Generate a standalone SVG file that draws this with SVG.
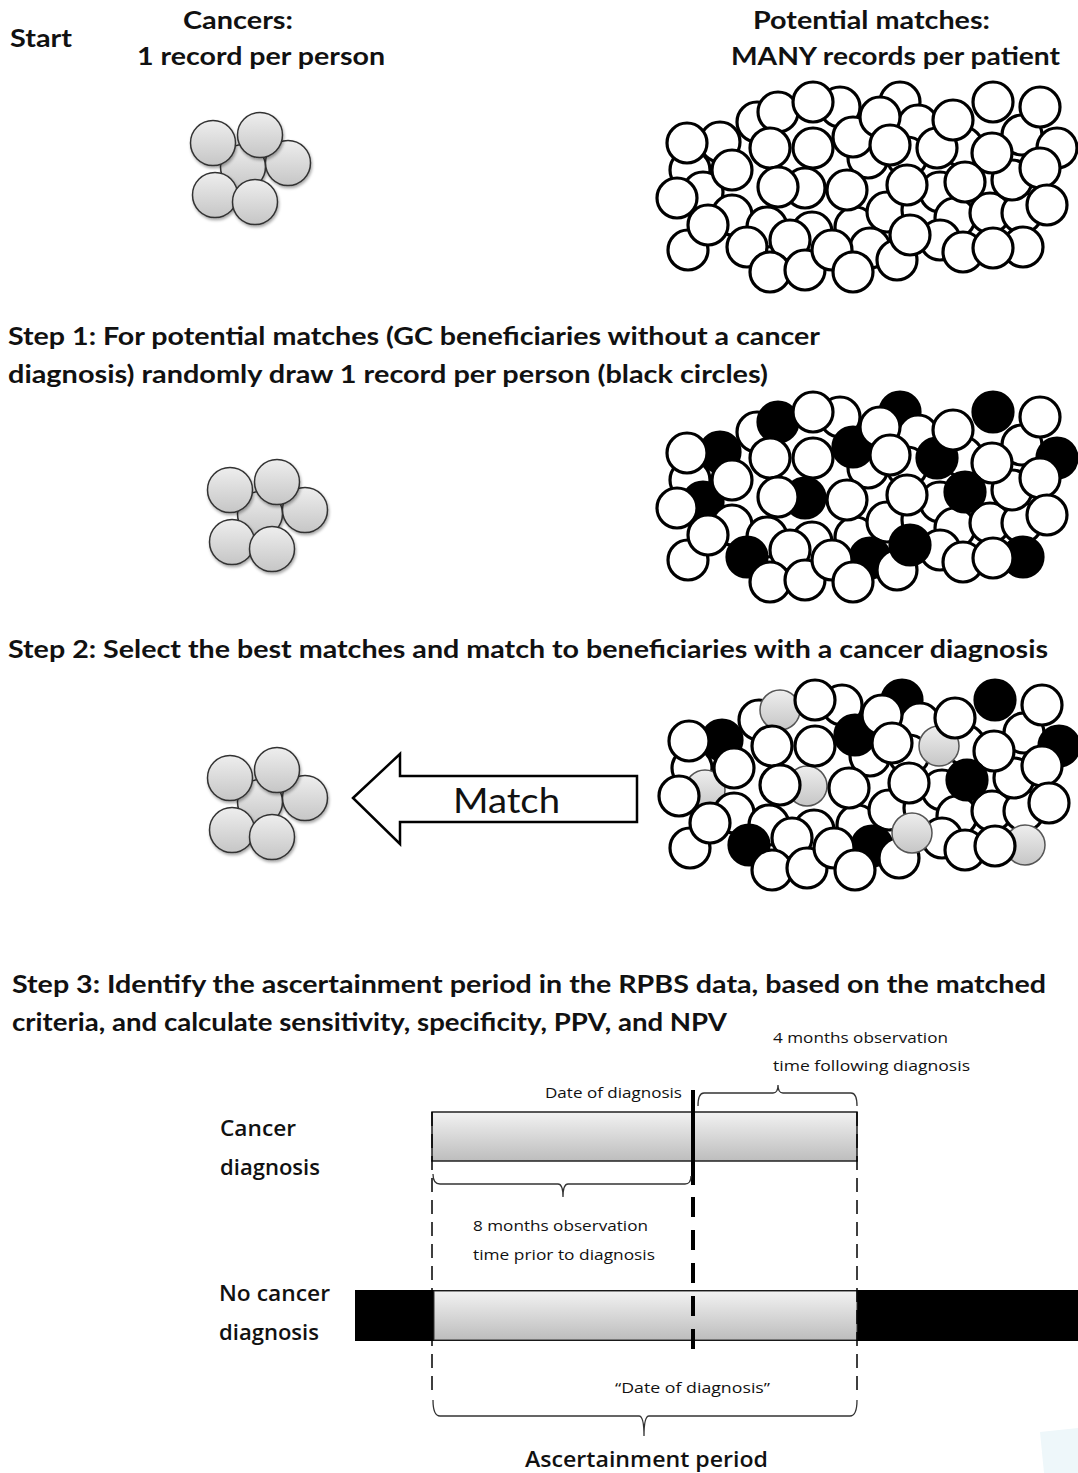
<svg xmlns="http://www.w3.org/2000/svg" xmlns:xlink="http://www.w3.org/1999/xlink" width="1078" height="1473" viewBox="0 0 1078 1473">
<style>
.h{font-family:Lato,"Open Sans","Liberation Sans",sans-serif;font-weight:bold;font-size:25px;fill:#111}
.t{font-family:"Open Sans",Lato,"Liberation Sans",sans-serif;font-size:15px;fill:#111}
.l{font-family:"Open Sans",Lato,"Liberation Sans",sans-serif;font-weight:600;font-size:21px;fill:#111}
.m{font-family:Lato,"Open Sans","Liberation Sans",sans-serif;font-size:35px;fill:#111}
.w{fill:#fff;stroke:#000;stroke-width:3.2}
.k{fill:#000;stroke:#000;stroke-width:3.2}
.g{fill:url(#gg);stroke:#555;stroke-width:1.5}
.s{fill:url(#gg);stroke:#333;stroke-width:1.5;filter:url(#sh)}
.br{fill:none;stroke:#333;stroke-width:1.3}
.dt{stroke:#000;stroke-width:1.5;stroke-dasharray:14 8;fill:none}
</style>
<defs>
<linearGradient id="gg" x1="0" y1="0" x2="0" y2="1">
<stop offset="0" stop-color="#eeeeee"/><stop offset="1" stop-color="#c6c6c6"/>
</linearGradient>
<linearGradient id="bar" x1="0" y1="0" x2="0" y2="1">
<stop offset="0" stop-color="#f2f2f2"/><stop offset="1" stop-color="#bdbdbd"/>
</linearGradient>
<filter id="sh" x="-30%" y="-30%" width="160%" height="160%">
<feDropShadow dx="1" dy="2" stdDeviation="1.5" flood-color="#000" flood-opacity="0.35"/>
</filter>
<g id="small">
<circle cx="243" cy="167" r="22.5" class="s"/>
<circle cx="213" cy="143" r="22.5" class="s"/>
<circle cx="288" cy="163" r="22.5" class="s"/>
<circle cx="260" cy="135" r="22.5" class="s"/>
<circle cx="215" cy="195" r="22.5" class="s"/>
<circle cx="255" cy="202" r="22.5" class="s"/>
</g>
</defs>
<rect width="1078" height="1473" fill="#fff"/>

<g id="header-start"><text class="h" x="10" y="47" textLength="62" lengthAdjust="spacingAndGlyphs">Start</text></g>
<g id="header-cancers">
<text class="h" x="183" y="29" textLength="110" lengthAdjust="spacingAndGlyphs">Cancers:</text>
<text class="h" x="137" y="65" textLength="248" lengthAdjust="spacingAndGlyphs">1 record per person</text>
</g>
<g id="header-matches">
<text class="h" x="753" y="29" textLength="237" lengthAdjust="spacingAndGlyphs">Potential matches:</text>
<text class="h" x="731" y="65" textLength="329" lengthAdjust="spacingAndGlyphs">MANY records per patient</text>
</g>

<g id="cancers-start"><use xlink:href="#small"/></g>
<g id="cancers-step1"><use xlink:href="#small" transform="translate(17,347)"/></g>
<g id="cancers-step2"><use xlink:href="#small" transform="translate(17,635)"/></g>

<g id="matches-start">
<circle cx="690" cy="170" r="20" class="w"/><circle cx="720" cy="142" r="20" class="w"/><circle cx="757" cy="122" r="20" class="w"/><circle cx="840" cy="107" r="20" class="w"/><circle cx="900" cy="102" r="20" class="w"/><circle cx="918" cy="125" r="20" class="w"/><circle cx="1022" cy="135" r="20" class="w"/><circle cx="1057" cy="148" r="20" class="w"/><circle cx="703" cy="192" r="20" class="w"/><circle cx="732" cy="215" r="20" class="w"/><circle cx="767" cy="227" r="20" class="w"/><circle cx="812" cy="232" r="20" class="w"/><circle cx="855" cy="227" r="20" class="w"/><circle cx="868" cy="158" r="20" class="w"/><circle cx="907" cy="157" r="20" class="w"/><circle cx="887" cy="212" r="20" class="w"/><circle cx="922" cy="210" r="20" class="w"/><circle cx="940" cy="192" r="20" class="w"/><circle cx="955" cy="218" r="20" class="w"/><circle cx="940" cy="240" r="20" class="w"/><circle cx="990" cy="213" r="20" class="w"/><circle cx="1022" cy="213" r="20" class="w"/><circle cx="963" cy="147" r="20" class="w"/><circle cx="1012" cy="180" r="20" class="w"/><circle cx="870" cy="248" r="20" class="w"/><circle cx="907" cy="185" r="20" class="w"/>
<circle cx="805" cy="188" r="20" class="w"/><circle cx="778" cy="112" r="20" class="w"/><circle cx="813" cy="102" r="20" class="w"/><circle cx="770" cy="148" r="20" class="w"/><circle cx="778" cy="187" r="20" class="w"/><circle cx="813" cy="148" r="20" class="w"/><circle cx="847" cy="190" r="20" class="w"/><circle cx="853" cy="137" r="20" class="w"/><circle cx="880" cy="117" r="20" class="w"/><circle cx="890" cy="145" r="20" class="w"/><circle cx="937" cy="148" r="20" class="w"/><circle cx="953" cy="120" r="20" class="w"/><circle cx="993" cy="102" r="20" class="w"/><circle cx="1040" cy="107" r="20" class="w"/><circle cx="992" cy="153" r="20" class="w"/><circle cx="965" cy="182" r="20" class="w"/><circle cx="1040" cy="168" r="20" class="w"/><circle cx="1047" cy="205" r="20" class="w"/><circle cx="687" cy="143" r="20" class="w"/><circle cx="732" cy="170" r="20" class="w"/><circle cx="677" cy="198" r="20" class="w"/><circle cx="688" cy="250" r="20" class="w"/><circle cx="708" cy="225" r="20" class="w"/><circle cx="747" cy="247" r="20" class="w"/><circle cx="790" cy="240" r="20" class="w"/><circle cx="770" cy="272" r="20" class="w"/><circle cx="805" cy="270" r="20" class="w"/><circle cx="832" cy="250" r="20" class="w"/><circle cx="853" cy="272" r="20" class="w"/><circle cx="897" cy="260" r="20" class="w"/><circle cx="910" cy="235" r="20" class="w"/><circle cx="1023" cy="247" r="20" class="w"/><circle cx="963" cy="252" r="20" class="w"/><circle cx="993" cy="248" r="20" class="w"/>
</g>

<g id="step1-heading">
<text class="h" x="8" y="345" textLength="812" lengthAdjust="spacingAndGlyphs">Step 1: For potential matches (GC beneficiaries without a cancer</text>
<text class="h" x="8" y="383" textLength="760" lengthAdjust="spacingAndGlyphs">diagnosis) randomly draw 1 record per person (black circles)</text>
</g>

<g id="matches-step1" transform="translate(0,310)">
<circle cx="690" cy="170" r="20" class="w"/><circle cx="720" cy="142" r="20" class="k"/><circle cx="757" cy="122" r="20" class="w"/><circle cx="840" cy="107" r="20" class="w"/><circle cx="900" cy="102" r="20" class="k"/><circle cx="918" cy="125" r="20" class="w"/><circle cx="1022" cy="135" r="20" class="w"/><circle cx="1057" cy="148" r="20" class="k"/><circle cx="703" cy="192" r="20" class="k"/><circle cx="732" cy="215" r="20" class="w"/><circle cx="767" cy="227" r="20" class="w"/><circle cx="812" cy="232" r="20" class="w"/><circle cx="855" cy="227" r="20" class="w"/><circle cx="868" cy="158" r="20" class="w"/><circle cx="907" cy="157" r="20" class="w"/><circle cx="887" cy="212" r="20" class="w"/><circle cx="922" cy="210" r="20" class="w"/><circle cx="940" cy="192" r="20" class="w"/><circle cx="955" cy="218" r="20" class="w"/><circle cx="940" cy="240" r="20" class="w"/><circle cx="990" cy="213" r="20" class="w"/><circle cx="1022" cy="213" r="20" class="w"/><circle cx="963" cy="147" r="20" class="w"/><circle cx="1012" cy="180" r="20" class="w"/><circle cx="870" cy="248" r="20" class="k"/><circle cx="907" cy="185" r="20" class="w"/>
<circle cx="805" cy="188" r="20" class="k"/><circle cx="778" cy="112" r="20" class="k"/><circle cx="813" cy="102" r="20" class="w"/><circle cx="770" cy="148" r="20" class="w"/><circle cx="778" cy="187" r="20" class="w"/><circle cx="813" cy="148" r="20" class="w"/><circle cx="847" cy="190" r="20" class="w"/><circle cx="853" cy="137" r="20" class="k"/><circle cx="880" cy="117" r="20" class="w"/><circle cx="890" cy="145" r="20" class="w"/><circle cx="937" cy="148" r="20" class="k"/><circle cx="953" cy="120" r="20" class="w"/><circle cx="993" cy="102" r="20" class="k"/><circle cx="1040" cy="107" r="20" class="w"/><circle cx="992" cy="153" r="20" class="w"/><circle cx="965" cy="182" r="20" class="k"/><circle cx="1040" cy="168" r="20" class="w"/><circle cx="1047" cy="205" r="20" class="w"/><circle cx="687" cy="143" r="20" class="w"/><circle cx="732" cy="170" r="20" class="w"/><circle cx="677" cy="198" r="20" class="w"/><circle cx="688" cy="250" r="20" class="w"/><circle cx="708" cy="225" r="20" class="w"/><circle cx="747" cy="247" r="20" class="k"/><circle cx="790" cy="240" r="20" class="w"/><circle cx="770" cy="272" r="20" class="w"/><circle cx="805" cy="270" r="20" class="w"/><circle cx="832" cy="250" r="20" class="w"/><circle cx="853" cy="272" r="20" class="w"/><circle cx="897" cy="260" r="20" class="w"/><circle cx="910" cy="235" r="20" class="k"/><circle cx="1023" cy="247" r="20" class="k"/><circle cx="963" cy="252" r="20" class="w"/><circle cx="993" cy="248" r="20" class="w"/>
</g>

<g id="step2-heading">
<text class="h" x="8" y="658" textLength="1040" lengthAdjust="spacingAndGlyphs">Step 2: Select the best matches and match to beneficiaries with a cancer diagnosis</text>
</g>

<g id="matches-step2" transform="translate(2,598)">
<circle cx="690" cy="170" r="20" class="w"/><circle cx="720" cy="142" r="20" class="k"/><circle cx="757" cy="122" r="20" class="w"/><circle cx="840" cy="107" r="20" class="w"/><circle cx="900" cy="102" r="20" class="k"/><circle cx="918" cy="125" r="20" class="w"/><circle cx="1022" cy="135" r="20" class="w"/><circle cx="1057" cy="148" r="20" class="k"/><circle cx="703" cy="192" r="20" class="g"/><circle cx="732" cy="215" r="20" class="w"/><circle cx="767" cy="227" r="20" class="w"/><circle cx="812" cy="232" r="20" class="w"/><circle cx="855" cy="227" r="20" class="w"/><circle cx="868" cy="158" r="20" class="w"/><circle cx="907" cy="157" r="20" class="w"/><circle cx="887" cy="212" r="20" class="w"/><circle cx="922" cy="210" r="20" class="w"/><circle cx="940" cy="192" r="20" class="w"/><circle cx="955" cy="218" r="20" class="w"/><circle cx="940" cy="240" r="20" class="w"/><circle cx="990" cy="213" r="20" class="w"/><circle cx="1022" cy="213" r="20" class="w"/><circle cx="963" cy="147" r="20" class="w"/><circle cx="1012" cy="180" r="20" class="w"/><circle cx="870" cy="248" r="20" class="k"/><circle cx="907" cy="185" r="20" class="w"/>
<circle cx="805" cy="188" r="20" class="g"/><circle cx="778" cy="112" r="20" class="g"/><circle cx="813" cy="102" r="20" class="w"/><circle cx="770" cy="148" r="20" class="w"/><circle cx="778" cy="187" r="20" class="w"/><circle cx="813" cy="148" r="20" class="w"/><circle cx="847" cy="190" r="20" class="w"/><circle cx="853" cy="137" r="20" class="k"/><circle cx="880" cy="117" r="20" class="w"/><circle cx="890" cy="145" r="20" class="w"/><circle cx="937" cy="148" r="20" class="g"/><circle cx="953" cy="120" r="20" class="w"/><circle cx="993" cy="102" r="20" class="k"/><circle cx="1040" cy="107" r="20" class="w"/><circle cx="992" cy="153" r="20" class="w"/><circle cx="965" cy="182" r="20" class="k"/><circle cx="1040" cy="168" r="20" class="w"/><circle cx="1047" cy="205" r="20" class="w"/><circle cx="687" cy="143" r="20" class="w"/><circle cx="732" cy="170" r="20" class="w"/><circle cx="677" cy="198" r="20" class="w"/><circle cx="688" cy="250" r="20" class="w"/><circle cx="708" cy="225" r="20" class="w"/><circle cx="747" cy="247" r="20" class="k"/><circle cx="790" cy="240" r="20" class="w"/><circle cx="770" cy="272" r="20" class="w"/><circle cx="805" cy="270" r="20" class="w"/><circle cx="832" cy="250" r="20" class="w"/><circle cx="853" cy="272" r="20" class="w"/><circle cx="897" cy="260" r="20" class="w"/><circle cx="910" cy="235" r="20" class="g"/><circle cx="1023" cy="247" r="20" class="g"/><circle cx="963" cy="252" r="20" class="w"/><circle cx="993" cy="248" r="20" class="w"/>
</g>

<g id="connectors">
<g id="match-arrow">
<polygon points="353,798 400,754 400,776 637,776 637,822 400,822 400,844" fill="#fff" stroke="#000" stroke-width="2.5" stroke-linejoin="miter"/>
<text class="m" x="453" y="813" textLength="107" lengthAdjust="spacingAndGlyphs">Match</text>
</g>
</g>

<g id="step3-heading">
<text class="h" x="12" y="993" textLength="1034" lengthAdjust="spacingAndGlyphs">Step 3: Identify the ascertainment period in the RPBS data, based on the matched</text>
<text class="h" x="12" y="1031" textLength="715" lengthAdjust="spacingAndGlyphs">criteria, and calculate sensitivity, specificity, PPV, and NPV</text>
</g>

<g id="timeline">
<text class="t" x="773" y="1043" textLength="175" lengthAdjust="spacingAndGlyphs">4 months observation</text>
<text class="t" x="773" y="1071" textLength="197" lengthAdjust="spacingAndGlyphs">time following diagnosis</text>
<text class="t" x="545" y="1098" textLength="137" lengthAdjust="spacingAndGlyphs">Date of diagnosis</text>
<path class="br" d="M698,1106 Q698,1093 704,1093 L773,1093 Q778,1093 778,1085 Q778,1093 783,1093 L851,1093 Q857,1093 857,1106"/>
<text class="l" x="220" y="1136" textLength="76" lengthAdjust="spacingAndGlyphs">Cancer</text>
<text class="l" x="220" y="1175" textLength="100" lengthAdjust="spacingAndGlyphs">diagnosis</text>
<rect x="432" y="1112" width="425" height="49" fill="url(#bar)" stroke="#222" stroke-width="1.5"/>
<line x1="693" y1="1090" x2="693" y2="1185" stroke="#000" stroke-width="4"/>
<path class="br" d="M433,1174 Q433,1184 440,1184 L558,1184 Q563,1184 563,1197 Q563,1184 568,1184 L685,1184 Q691,1184 691,1176"/>
<text class="t" x="473" y="1231" textLength="175" lengthAdjust="spacingAndGlyphs">8 months observation</text>
<text class="t" x="473" y="1260" textLength="182" lengthAdjust="spacingAndGlyphs">time prior to diagnosis</text>
<text class="l" x="219" y="1301" textLength="111" lengthAdjust="spacingAndGlyphs">No cancer</text>
<text class="l" x="219" y="1340" textLength="100" lengthAdjust="spacingAndGlyphs">diagnosis</text>
<rect x="355" y="1290" width="723" height="51" fill="#000"/>
<rect x="434" y="1291" width="423" height="49" fill="url(#bar)" stroke="#333" stroke-width="1"/>
<line class="dt" x1="432" y1="1112" x2="432" y2="1396"/>
<line class="dt" x1="857" y1="1112" x2="857" y2="1396"/>
<line x1="693" y1="1197" x2="693" y2="1362" stroke="#000" stroke-width="4" stroke-dasharray="20 13"/>
<text class="t" x="615" y="1393" textLength="155" lengthAdjust="spacingAndGlyphs">“Date of diagnosis”</text>
<path class="br" d="M433,1400 Q433,1416 440,1416 L639,1416 Q644,1416 644,1436 Q644,1416 649,1416 L850,1416 Q857,1416 857,1400"/>
<text class="l" x="525" y="1467" textLength="243" lengthAdjust="spacingAndGlyphs">Ascertainment period</text>
</g>
<polygon points="1040,1432 1078,1428 1078,1473 1044,1473" fill="#eef7fa"/>
</svg>
